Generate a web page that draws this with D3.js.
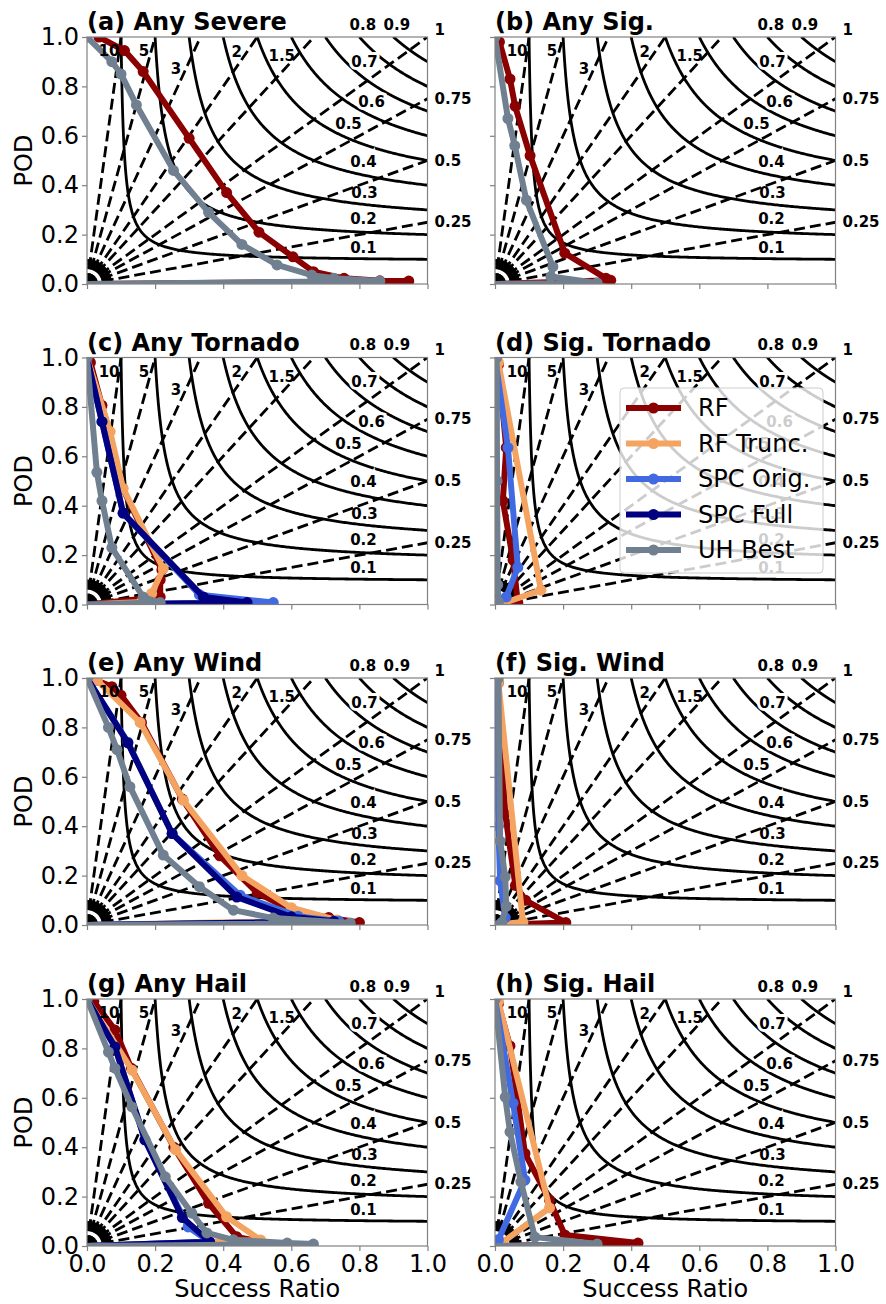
<!DOCTYPE html>
<html lang="en">
<head>
<meta charset="utf-8">
<title>Performance diagrams</title>
<script src="https://cdn.jsdelivr.net/npm/d3@7"></script>
<style>
  body { margin: 0; background: #fff; }
  text { font-family: "DejaVu Sans", sans-serif; }
</style>
</head>
<body>
<script>
// each series: [success ratio, POD] points
const anySevereRF = [[0.035,1.0],[0.11,0.945],[0.165,0.86],[0.30,0.59],[0.41,0.37],[0.505,0.21],[0.605,0.11],[0.665,0.05],[0.755,0.023],[0.86,0.013],[0.945,0.012],[0,0]];
const anySevereUH = [[0,1.0],[0.073,0.90],[0.10,0.85],[0.145,0.725],[0.254,0.46],[0.357,0.29],[0.455,0.16],[0.558,0.077],[0.66,0.036],[0.725,0.023],[0.86,0.012],[0,0]];

const anySigRF = [[0.013,0.98],[0.044,0.83],[0.059,0.72],[0.103,0.52],[0.205,0.125],[0.326,0.023],[0.34,0.015],[0,0]];
const anySigUH = [[0,1.0],[0.038,0.67],[0.058,0.56],[0.092,0.34],[0.17,0.07],[0.164,0.03],[0.30,0.004],[0,0]];

const anyTorRF = [[0.01,0.98],[0.044,0.806],[0.065,0.70],[0.105,0.47],[0.22,0.14],[0.215,0.10],[0.215,0.03],[0,0]];
const anyTorTrunc = [[0,1.0],[0.068,0.70],[0.106,0.47],[0.224,0.145],[0.19,0.045],[0.16,0.01],[0,0]];
const anyTorSpcOrig = [[0,1.0],[0.044,0.74],[0.106,0.37],[0.33,0.04],[0.547,0.008],[0,0]];
const anyTorSpcFull = [[0,1.0],[0.044,0.74],[0.106,0.37],[0.342,0.03],[0.47,0.008],[0,0]];
const anyTorUH = [[0,1.0],[0.029,0.535],[0.044,0.42],[0.073,0.23],[0.165,0.03],[0.215,0.008],[0,0]];

const sigTorRF = [[0.01,0.97],[0.033,0.635],[0.023,0.42],[0.053,0.18],[0.067,0.008],[0,0]];
const sigTorTrunc = [[0.01,0.98],[0.135,0.058],[0.03,0.008],[0,0]];
const sigTorSpcOrig = [[0,1.0],[0.038,0.635],[0.067,0.15],[0.033,0.03],[0,0]];
const sigTorUH = [[0.005,1.0],[0.006,0.5],[0.008,0.08],[0.01,0.01],[0,0]];

const anyWindRF = [[0.028,0.99],[0.073,0.965],[0.10,0.93],[0.16,0.82],[0.28,0.51],[0.39,0.28],[0.50,0.13],[0.60,0.06],[0.71,0.03],[0.80,0.01],[0,0]];
const anyWindTrunc = [[0.03,0.99],[0.156,0.82],[0.283,0.505],[0.455,0.20],[0.60,0.07],[0.735,0.02],[0,0]];
const anyWindSpcOrig = [[0,1.0],[0.12,0.74],[0.25,0.37],[0.45,0.12],[0.62,0.035],[0.74,0.015],[0,0]];
const anyWindSpcFull = [[0,1.0],[0.12,0.737],[0.25,0.37],[0.44,0.113],[0.60,0.033],[0.725,0.015],[0,0]];
const anyWindUH = [[0,1.0],[0.063,0.80],[0.088,0.71],[0.126,0.56],[0.224,0.283],[0.33,0.155],[0.43,0.06],[0.547,0.028],[0.773,0.008],[0,0]];

const sigWindRF = [[0.01,0.98],[0.03,0.45],[0.06,0.16],[0.09,0.10],[0.208,0.01],[0,0]];
const sigWindTrunc = [[0.01,0.98],[0.082,0.012],[0,0]];
const sigWindSpcOrig = [[0,1.0],[0.01,0.4],[0.015,0.18],[0.03,0.03],[0,0]];
const sigWindUH = [[0.01,1.0],[0.015,0.34],[0.03,0.195],[0.033,0.075],[0.02,0.01],[0,0]];

const anyHailRF = [[0.02,0.99],[0.082,0.875],[0.13,0.72],[0.255,0.40],[0.357,0.173],[0.44,0.037],[0.50,0.02],[0,0]];
const anyHailTrunc = [[0,1.0],[0.132,0.712],[0.26,0.39],[0.41,0.118],[0.51,0.024],[0,0]];
const anyHailSpcOrig = [[0,1.0],[0.082,0.806],[0.17,0.43],[0.297,0.077],[0.36,0.017],[0,0]];
const anyHailSpcFull = [[0,1.0],[0.082,0.806],[0.17,0.43],[0.28,0.115],[0.36,0.017],[0,0]];
const anyHailUH = [[0,1.0],[0.063,0.785],[0.082,0.72],[0.132,0.563],[0.23,0.28],[0.308,0.133],[0.352,0.053],[0.43,0.025],[0.588,0.012],[0.665,0.008],[0,0]];

const sigHailRF = [[0.01,0.98],[0.044,0.81],[0.088,0.375],[0.16,0.186],[0.205,0.045],[0.42,0.012],[0,0]];
const sigHailTrunc = [[0.01,0.99],[0.16,0.154],[0.023,0.016],[0,0]];
const sigHailSpcOrig = [[0,1.0],[0.053,0.578],[0.088,0.267],[0.01,0.025],[0,0]];
const sigHailUH = [[0,1.0],[0.03,0.603],[0.044,0.462],[0.076,0.26],[0.117,0.036],[0.30,0.008],[0,0]];

const seriesNames = ["RF", "RF Trunc.", "SPC Orig.", "SPC Full", "UH Best"];
const seriesColors = ["#8b0000", "#f4a460", "#4169e1", "#000080", "#708090"];

const panelTitles = ["(a) Any Severe", "(b) Any Sig.", "(c) Any Tornado", "(d) Sig. Tornado",
                     "(e) Any Wind", "(f) Sig. Wind", "(g) Any Hail", "(h) Sig. Hail"];
// one slot per series name, null where the panel has no such line
const panelSeries = [
  [anySevereRF, null, null, null, anySevereUH],
  [anySigRF, null, null, null, anySigUH],
  [anyTorRF, anyTorTrunc, anyTorSpcOrig, anyTorSpcFull, anyTorUH],
  [sigTorRF, sigTorTrunc, sigTorSpcOrig, null, sigTorUH],
  [anyWindRF, anyWindTrunc, anyWindSpcOrig, anyWindSpcFull, anyWindUH],
  [sigWindRF, sigWindTrunc, sigWindSpcOrig, null, sigWindUH],
  [anyHailRF, anyHailTrunc, anyHailSpcOrig, anyHailSpcFull, anyHailUH],
  [sigHailRF, sigHailTrunc, sigHailSpcOrig, null, sigHailUH]
];

const axisTicks = [0, 0.2, 0.4, 0.6, 0.8, 1.0];
const csiLevels = [0.1, 0.2, 0.3, 0.4, 0.5, 0.6, 0.7, 0.8, 0.9];
const csiLabels = ["0.1", "0.2", "0.3", "0.4", "0.5", "0.6", "0.7"];
const csiLabelSR = [0.812, 0.812, 0.815, 0.812, 0.768, 0.836, 0.815];
const csiLabelPOD = [0.146, 0.263, 0.368, 0.494, 0.648, 0.737, 0.90];
const csiTopLabels = ["0.8", "0.9"];
const csiTopSR = [0.81, 0.91];
const biasLevels = [0.25, 0.5, 0.75, 1, 1.5, 2, 3, 5, 10];
const biasTopLabels = ["10", "5", "3", "2", "1.5"];
const biasTopSR = [0.065, 0.167, 0.261, 0.44, 0.572];
const biasTopPOD = [0.943, 0.943, 0.87, 0.94, 0.923];
const biasRightLabels = ["1", "0.75", "0.5", "0.25"];
const biasRightPOD = [1.03, 0.75, 0.5, 0.25];

const width = 886, height = 1304;
const colX = [87, 495], rowY = [37, 357.5, 678, 999];
const plotW = 340.5, plotH = 247;

const svg = d3.select("body").append("svg")
  .attr("width", width).attr("height", height);

panelTitles.forEach((title, i) => {
  const col = i % 2, row = Math.floor(i / 2);
  const x = d3.scaleLinear().domain([0, 1]).range([0, plotW]);
  const y = d3.scaleLinear().domain([0, 1]).range([plotH, 0]);
  const g = svg.append("g").attr("transform", `translate(${colX[col]},${rowY[row]})`);

  const clipId = "clip" + i;
  g.append("clipPath").attr("id", clipId)
    .append("rect").attr("width", plotW).attr("height", plotH);
  const plot = g.append("g").attr("clip-path", `url(#${clipId})`);

  // CSI contours
  const line = d3.line().x(d => x(d[0])).y(d => y(d[1]));
  const steps = d3.range(0, 1.0001, 0.004);
  plot.selectAll(".csi").data(csiLevels).join("path")
    .attr("class", "csi")
    .attr("d", c => line(steps.map(t => {
      const sr = c + (1 - c) * t * t;
      return [sr, 1 / (1 / c + 1 - 1 / sr)];
    })))
    .attr("fill", "none").attr("stroke", "#000").attr("stroke-width", 2.8);

  plot.selectAll(".csiLab").data(csiLabels).join("text")
    .attr("class", "csiLab")
    .attr("x", (d, k) => x(csiLabelSR[k])).attr("y", (d, k) => y(csiLabelPOD[k]))
    .attr("text-anchor", "middle").attr("dominant-baseline", "central")
    .attr("font-size", 15).attr("font-weight", "bold")
    .attr("stroke", "#fff").attr("stroke-width", 6).attr("paint-order", "stroke")
    .text(d => d);

  // frequency bias lines
  plot.selectAll(".bias").data(biasLevels).join("path")
    .attr("class", "bias")
    .attr("d", b => line([[0, 0], b >= 1 ? [1 / b, 1] : [1, b]]))
    .attr("fill", "none").attr("stroke", "#000").attr("stroke-width", 2.8)
    .attr("stroke-dasharray", "11,5");

  // crowded dashes where the bias contours meet at the origin
  const fanAngles = d3.range(0, 91, 5);
  plot.selectAll(".fan").data(fanAngles).join("line")
    .attr("class", "fan")
    .attr("x1", x(0)).attr("y1", y(0))
    .attr("x2", a => x(0) + 27 * Math.cos(a * Math.PI / 180))
    .attr("y2", a => y(0) - 27 * Math.sin(a * Math.PI / 180))
    .attr("stroke", "#000").attr("stroke-width", 2.5)
    .attr("stroke-dasharray", "10,5");

  g.selectAll(".biasTop").data(biasTopLabels).join("text")
    .attr("class", "biasTop")
    .attr("x", (d, k) => x(biasTopSR[k])).attr("y", (d, k) => y(biasTopPOD[k]))
    .attr("text-anchor", "middle").attr("dominant-baseline", "central")
    .attr("font-size", 15).attr("font-weight", "bold")
    .text(d => d);

  g.selectAll(".biasRight").data(biasRightLabels).join("text")
    .attr("class", "biasRight")
    .attr("x", plotW + 7).attr("y", (d, k) => y(biasRightPOD[k]))
    .attr("dominant-baseline", "central")
    .attr("font-size", 15).attr("font-weight", "bold")
    .text(d => d);

  g.selectAll(".csiTop").data(csiTopLabels).join("text")
    .attr("class", "csiTop")
    .attr("x", (d, k) => x(csiTopSR[k])).attr("y", y(1.05))
    .attr("text-anchor", "middle").attr("dominant-baseline", "central")
    .attr("font-size", 15).attr("font-weight", "bold")
    .text(d => d);

  // forecast curves
  panelSeries[i].forEach((pts, s) => {
    if (!pts) return;
    plot.append("path")
      .attr("d", line(pts))
      .attr("fill", "none").attr("stroke", seriesColors[s])
      .attr("stroke-width", 6).attr("stroke-linejoin", "round");
    plot.selectAll(".pt" + s).data(pts.slice(0, -1)).join("circle")
      .attr("class", "pt" + s)
      .attr("cx", d => x(d[0])).attr("cy", d => y(d[1])).attr("r", 5.5)
      .attr("fill", seriesColors[s]);
  });

  // axes
  const xAxis = d3.axisBottom(x).tickValues(axisTicks).tickSize(5).tickPadding(4)
    .tickFormat(row === 3 ? d3.format(".1f") : "");
  const yAxis = d3.axisLeft(y).tickValues(axisTicks).tickSize(5).tickPadding(3)
    .tickFormat(col === 0 ? d3.format(".1f") : "");
  const xg = g.append("g").attr("transform", `translate(0,${plotH})`).call(xAxis);
  const yg = g.append("g").call(yAxis);
  [xg, yg].forEach(a => {
    a.select(".domain").remove();
    a.selectAll(".tick line").attr("stroke", "#808080").attr("stroke-width", 1.2);
    a.selectAll(".tick text").attr("font-size", 24).attr("font-family", "DejaVu Sans").attr("fill", "#000");
  });
  g.append("rect").attr("width", plotW).attr("height", plotH)
    .attr("fill", "none").attr("stroke", "#808080").attr("stroke-width", 1.2);

  g.append("text")
    .attr("x", 0).attr("y", -7)
    .attr("font-size", 24).attr("font-weight", "bold")
    .text(title);

  if (col === 0) {
    g.append("text")
      .attr("transform", `translate(${24 - colX[0]},${plotH / 2}) rotate(-90)`)
      .attr("text-anchor", "middle").attr("dominant-baseline", "central")
      .attr("font-size", 24)
      .text("POD");
  }
  if (row === 3) {
    g.append("text")
      .attr("x", plotW / 2).attr("y", plotH + 51)
      .attr("text-anchor", "middle")
      .attr("font-size", 24)
      .text("Success Ratio");
  }

  // legend lives in panel (d)
  if (i === 3) {
    const lg = g.append("g").attr("transform", `translate(${620 - colX[1]},${388 - rowY[1]})`);
    lg.append("rect").attr("width", 203).attr("height", 185).attr("rx", 4)
      .attr("fill", "#fff").attr("fill-opacity", 0.8)
      .attr("stroke", "#cccccc").attr("stroke-width", 1);
    const items = lg.selectAll(".item").data(seriesNames).join("g")
      .attr("class", "item")
      .attr("transform", (d, k) => `translate(0,${20 + k * 35.5})`);
    items.append("line").attr("x1", 6).attr("x2", 61)
      .attr("stroke", (d, k) => seriesColors[k]).attr("stroke-width", 6);
    items.append("circle").attr("cx", 33.5).attr("r", 5.5)
      .attr("fill", (d, k) => seriesColors[k]);
    items.append("text").attr("x", 78).attr("dominant-baseline", "central")
      .attr("font-size", 24).text(d => d);
  }
});
</script>
</body>
</html>
